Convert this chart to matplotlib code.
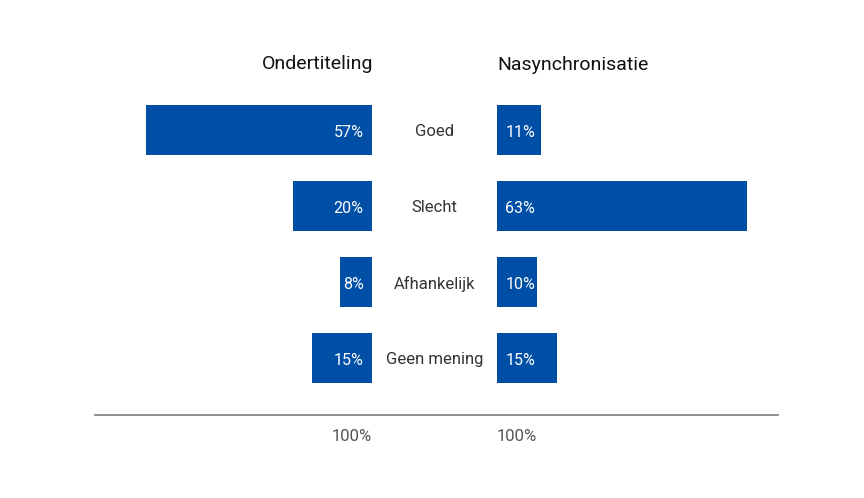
import matplotlib
matplotlib.use("Agg")
import matplotlib.pyplot as plt
import matplotlib.transforms as mtransforms
from matplotlib.lines import Line2D

plt.rcParams['font.family'] = ['Roboto', 'DejaVu Sans']

categories = ["Goed", "Slecht", "Afhankelijk", "Geen mening"]
ondertiteling = [57, 20, 8, 15]
nasynchronisatie = [11, 63, 10, 15]
titles = ["Ondertiteling", "Nasynchronisatie"]
tick_label = "100%"

W, H = 864, 498
fig = plt.figure(figsize=(W / 100, H / 100), dpi=100)
color = "#004fa6"

def fx(px):
    return px / W

def fy(py):
    return 1 - py / H

top, bottom = 92, 415
scale = 3.97  # px per percent
lx0, lx1 = 95, 372
rx0, rx1 = 497, 778

axL = fig.add_axes([fx(lx0), fy(bottom), fx(lx1 - lx0), fy(top) - fy(bottom)])
axR = fig.add_axes([fx(rx0), fy(bottom), fx(rx1 - rx0), fy(top) - fy(bottom)])

ypos = list(range(len(categories)))
axL.barh(ypos, ondertiteling, height=0.66, color=color)
axR.barh(ypos, nasynchronisatie, height=0.66, color=color)

axL.set_xlim((lx1 - lx0) / scale, 0)
axR.set_xlim(0, (rx1 - rx0) / scale)
for ax in (axL, axR):
    ax.set_ylim(3.75, -0.5)
    for s in ax.spines.values():
        s.set_visible(False)
    ax.set_yticks([])
    ax.set_xticks([0])
    ax.tick_params(axis='x', length=0, pad=10, labelsize=12, labelcolor="#555555")

axL.set_xticklabels([tick_label], ha='right')
axR.set_xticklabels([tick_label], ha='left')

for i, v in enumerate(ondertiteling):
    axL.annotate(f"{v}%", (0, i), xytext=(-6, -1.5), textcoords='offset points',
                 ha='right', va='center', color='white', fontsize=11.5)
for i, v in enumerate(nasynchronisatie):
    axR.annotate(f"{v}%", (0, i), xytext=(6, -1.5), textcoords='offset points',
                 ha='left', va='center', color='white', fontsize=11.5)

trans = mtransforms.blended_transform_factory(fig.transFigure, axL.transData)
for i, c in enumerate(categories):
    fig.text(fx(434.5), i + 0.025, c, transform=trans, ha='center', va='center',
             fontsize=12, color="#333333")

fig.text(fx(373), fy(64), titles[0], ha='right', va='center', fontsize=14, color="#111111")
fig.text(fx(497), fy(65), titles[1], ha='left', va='center', fontsize=14, color="#111111")

fig.add_artist(Line2D([fx(95), fx(778)], [fy(415), fy(415)], transform=fig.transFigure,
                      color="#888888", linewidth=1.3))

fig.savefig("out.png", dpi=100)
